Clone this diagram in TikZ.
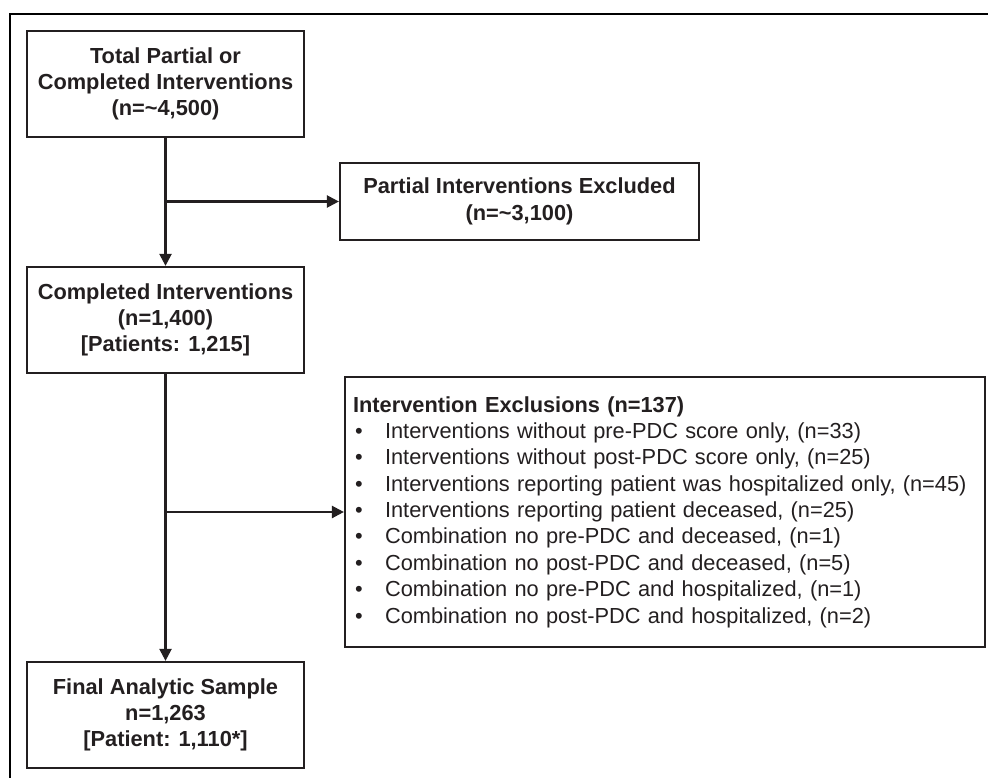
\documentclass[tikz,border=0pt]{standalone}
\usepackage{fontspec}
\setmainfont{Liberation Sans}
\usepackage{tikz}
\usetikzlibrary{arrows.meta,positioning}
\definecolor{encre}{RGB}{35,31,32}

\begin{document}
\begin{tikzpicture}[x=0.02cm,y=-0.02cm,
  boite/.style={draw=encre,line width=1.3pt,text=encre,inner sep=0,
    font=\fontsize{12.4}{15}\selectfont\bfseries,align=center},
  fleche/.style={draw=encre,line width=1.3pt,-{Triangle[length=6.8pt,width=6.8pt]}}]
\useasboundingbox (0,0) rectangle (988,778);
% cadre
\draw[line width=1.6pt](10,778)--(10,14)--(988,14);
% boites principales
\node[boite,minimum width=5.54cm,minimum height=2.12cm](T)at(165.5,84){Total Partial or\\Completed Interventions\\(n=\textasciitilde4,500)};
\node[boite,minimum width=5.54cm,minimum height=2.12cm](C)at(165.5,320){Completed Interventions\\(n=1,400)\\{[}Patients: 1,215{]}};
\node[boite,minimum width=5.54cm,minimum height=2.12cm](F)at(165.5,715){Final Analytic Sample\\n=1,263\\{[}Patient: 1,110*{]}};
% exclusions
\node[boite,minimum width=7.18cm,minimum height=1.54cm](P)at(519.5,201.5){Partial Interventions Excluded\\(n=\textasciitilde3,100)};
\node[boite,font=\fontsize{12.4}{15}\selectfont,align=left,inner xsep=0.16cm,
  text width=12.48cm,minimum height=5.4cm](E)at(665,512){%
  \textbf{Intervention Exclusions (n=137)}\\
  \makebox[0.64cm][l]{\hspace{0.04cm}\textbullet}Interventions without pre-PDC score only, (n=33)\\
  \makebox[0.64cm][l]{\hspace{0.04cm}\textbullet}Interventions without post-PDC score only, (n=25)\\
  \makebox[0.64cm][l]{\hspace{0.04cm}\textbullet}Interventions reporting patient was hospitalized only, (n=45)\\
  \makebox[0.64cm][l]{\hspace{0.04cm}\textbullet}Interventions reporting patient deceased, (n=25)\\
  \makebox[0.64cm][l]{\hspace{0.04cm}\textbullet}Combination no pre-PDC and deceased, (n=1)\\
  \makebox[0.64cm][l]{\hspace{0.04cm}\textbullet}Combination no post-PDC and deceased, (n=5)\\
  \makebox[0.64cm][l]{\hspace{0.04cm}\textbullet}Combination no pre-PDC and hospitalized, (n=1)\\
  \makebox[0.64cm][l]{\hspace{0.04cm}\textbullet}Combination no post-PDC and hospitalized, (n=2)};
% fleches
\draw[fleche](T)--(C);
\draw[fleche](T.south|-P.west)--(P);
\draw[fleche](C)--(F);
\draw[fleche](C.south|-E.west)--(E);
\end{tikzpicture}
\end{document}
